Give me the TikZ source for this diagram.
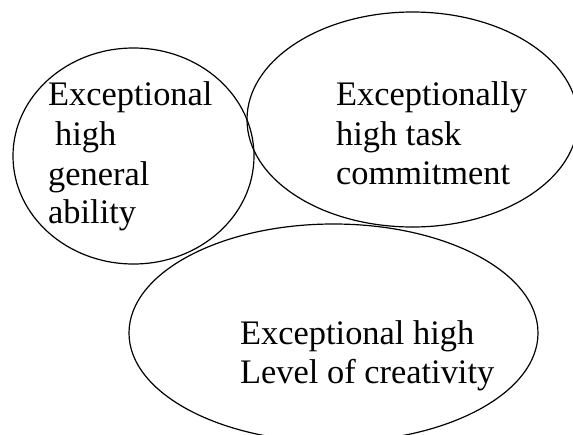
\documentclass[tikz,border=0pt]{standalone}
\usepackage{fontspec}
\setmainfont{Liberation Serif}
\begin{document}
\begin{tikzpicture}[x=1pt,y=-1pt,
  ring/.style={draw=black,line width=1.2pt},
  lbl/.style={anchor=base west,inner sep=0pt,font=\fontsize{34.4}{39}\selectfont}]
\useasboundingbox (0,0) rectangle (573,434);
\clip (0,0) rectangle (573,434);
\fill[white] (0,0) rectangle (573,434);
\draw[ring] (133.5,156) ellipse [x radius=120.5, y radius=108];
\draw[ring] (412.5,119.5) ellipse [x radius=165.5, y radius=107.5];
\draw[ring] (333.5,333) ellipse [x radius=204.5, y radius=109];
\node[lbl] (a1) at (48,105) {Exceptional};
\node[lbl] (a2) at (55,145) {high};
\node[lbl] (a3) at (48,185) {general};
\node[lbl] (a4) at (48,223) {ability};
\node[lbl] (b1) at (336,105) {Exceptionally};
\node[lbl] (b2) at (336,145) {high task};
\node[lbl] (b3) at (336,184) {commitment};
\node[lbl] (c1) at (240,344) {Exceptional high};
\node[lbl] (c2) at (240,383) {Level of creativity};
\end{tikzpicture}
\end{document}
